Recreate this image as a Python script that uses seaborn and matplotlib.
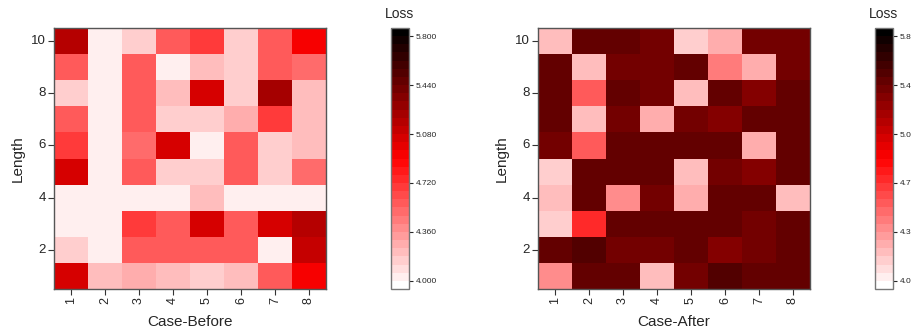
import numpy as np
import pandas as pd
import matplotlib
matplotlib.use("Agg")
import matplotlib.pyplot as plt
from matplotlib.colors import LinearSegmentedColormap
import seaborn as sns

# filas de arriba (Length=10) hacia abajo (Length=1), columnas = casos 1..8
length_labels = [10, 9, 8, 7, 6, 5, 4, 3, 2, 1]
case_labels = [1, 2, 3, 4, 5, 6, 7, 8]

loss_before = [
    [5.15, 4.05, 4.15, 4.60, 4.70, 4.15, 4.55, 4.95],
    [4.55, 4.05, 4.55, 4.05, 4.20, 4.15, 4.55, 4.50],
    [4.15, 4.05, 4.55, 4.20, 5.05, 4.15, 5.20, 4.20],
    [4.55, 4.05, 4.55, 4.15, 4.15, 4.25, 4.70, 4.20],
    [4.70, 4.05, 4.50, 5.05, 4.05, 4.60, 4.15, 4.20],
    [5.05, 4.05, 4.60, 4.15, 4.15, 4.55, 4.15, 4.50],
    [4.00, 4.05, 4.05, 4.00, 4.20, 4.05, 4.05, 4.05],
    [4.05, 4.05, 4.70, 4.60, 5.05, 4.60, 5.05, 5.15],
    [4.15, 4.05, 4.55, 4.60, 4.60, 4.60, 4.05, 5.10],
    [5.05, 4.20, 4.30, 4.20, 4.15, 4.20, 4.60, 4.95],
]

loss_after = [
    [4.20, 5.50, 5.50, 5.40, 4.15, 4.30, 5.40, 5.40],
    [5.50, 4.20, 5.40, 5.40, 5.50, 4.45, 4.30, 5.40],
    [5.45, 4.60, 5.50, 5.40, 4.20, 5.50, 5.35, 5.50],
    [5.45, 4.20, 5.40, 4.25, 5.40, 5.35, 5.50, 5.50],
    [5.40, 4.55, 5.50, 5.50, 5.50, 5.50, 4.30, 5.45],
    [4.15, 5.50, 5.50, 5.50, 4.20, 5.40, 5.35, 5.50],
    [4.20, 5.50, 4.40, 5.40, 4.30, 5.50, 5.50, 4.20],
    [4.15, 4.75, 5.50, 5.50, 5.45, 5.50, 5.40, 5.50],
    [5.50, 5.55, 5.40, 5.40, 5.50, 5.35, 5.40, 5.50],
    [4.40, 5.45, 5.45, 4.20, 5.40, 5.55, 5.50, 5.50],
]

cbar_ticks = [4.0, 4.36, 4.72, 5.08, 5.44, 5.8]

sns.set_style("white")
plt.rcParams["font.family"] = ["Arial", "Liberation Sans", "DejaVu Sans"]

# 32 niveles discretos blanco -> rojo -> negro
cmap = LinearSegmentedColormap.from_list("loss", ["white", "#ff0000", "black"], N=32)
vmin, vmax = 3.94, 5.86

fig = plt.figure(figsize=(9.12, 3.33), dpi=100)
W, H = 912, 333


def box(x0, y0, x1, y1):
    return [x0 / W, 1 - y1 / H, (x1 - x0) / W, (y1 - y0) / H]


panels = [
    (loss_before, "Case-Before", box(54, 28, 326, 289), box(391, 28, 409, 289)),
    (loss_after, "Case-After", box(538, 28, 810, 289), box(875, 28, 893, 289)),
]

for data, xlabel, ax_pos, cb_pos in panels:
    df = pd.DataFrame(data, index=length_labels, columns=case_labels)
    ax = fig.add_axes(ax_pos)
    cax = fig.add_axes(cb_pos)
    sns.heatmap(df, ax=ax, cbar_ax=cax, cmap=cmap, vmin=vmin, vmax=vmax,
                cbar_kws={"ticks": cbar_ticks, "format": "%.3f"})

    # ejes con marco y ticks hacia fuera
    for sp in ax.spines.values():
        sp.set_visible(True)
        sp.set_color("#555555")
        sp.set_linewidth(1.0)
    ax.set_xticks(np.arange(len(case_labels)) + 0.5)
    ax.set_xticklabels(case_labels, rotation=90, fontsize=9)
    ypos = [length_labels.index(r) + 0.5 for r in [10, 8, 6, 4, 2]]
    ax.set_yticks(ypos)
    ax.set_yticklabels([10, 8, 6, 4, 2], rotation=0, fontsize=9.5)
    ax.tick_params(axis="both", direction="out", length=4, width=0.8,
                   color="#333333", bottom=True, left=True, pad=2)
    ax.set_xlabel(xlabel, fontsize=11, labelpad=8)
    ax.set_ylabel("Length", fontsize=11, labelpad=4)

    cax.tick_params(labelsize=6, length=3, width=0.8, pad=2)
    cax.set_title("Loss", fontsize=10, pad=7)
    cb = ax.collections[0].colorbar
    cb.outline.set_visible(True)
    cb.outline.set_edgecolor("#777777")
    cb.outline.set_linewidth(1.0)

fig.savefig("out.png", dpi=100)
